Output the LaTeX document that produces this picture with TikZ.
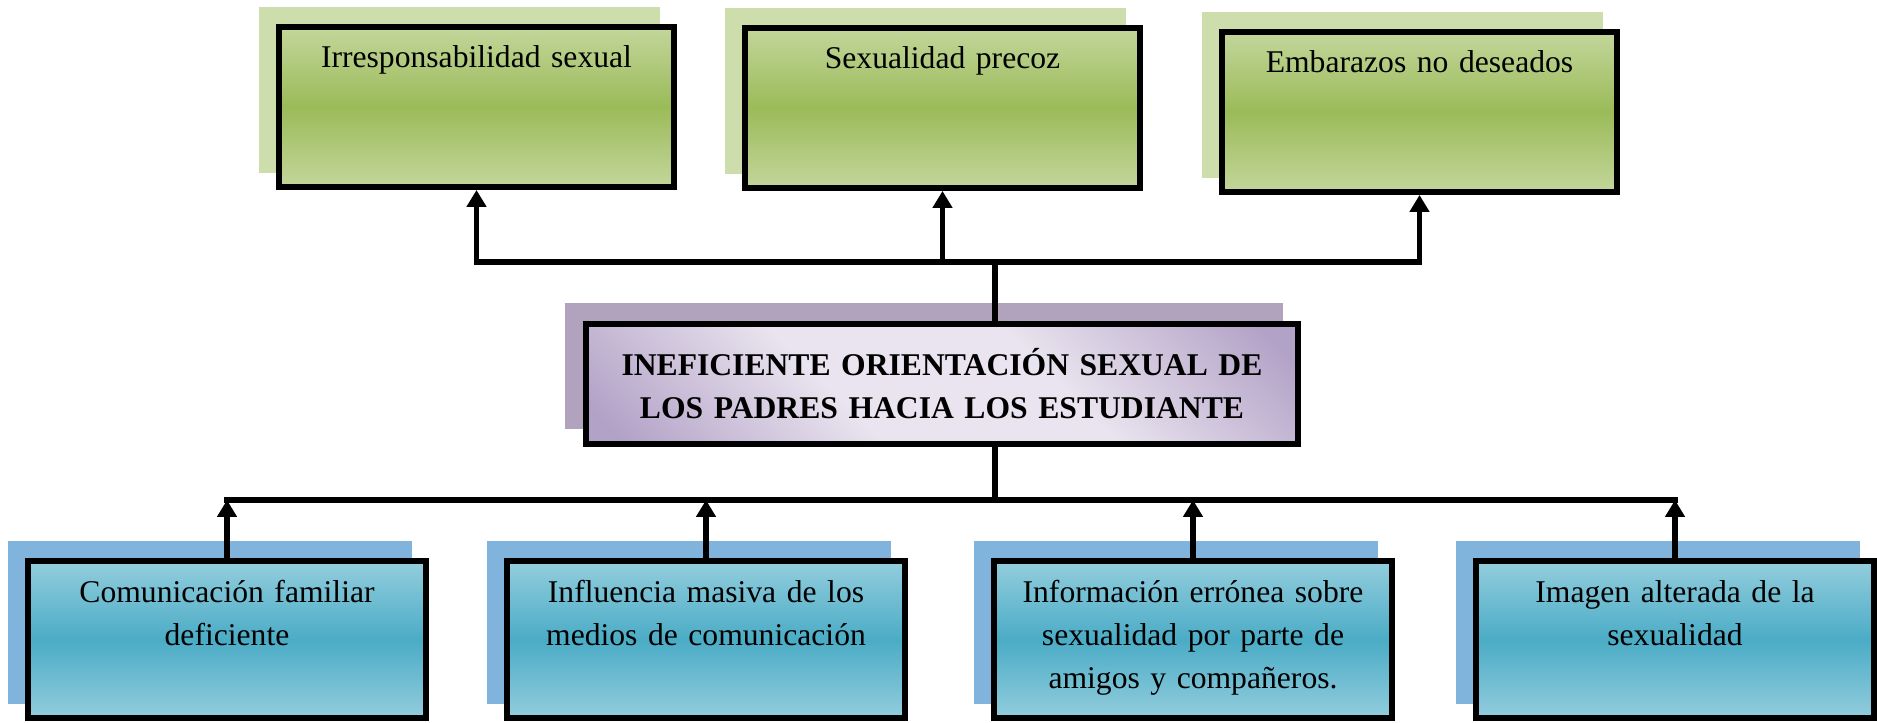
\documentclass[tikz,border=0pt]{standalone}
\usepackage{fontspec}
\setmainfont{Liberation Serif}
\usepackage{tikz}
\usetikzlibrary{arrows.meta,%
                shadows}

\definecolor{grnlight}{HTML}{C3D69B}
\definecolor{grndark}{HTML}{9BBB59}
\definecolor{grnshadow}{HTML}{CDDDAC}
\definecolor{blulight}{HTML}{93CDDD}
\definecolor{bludark}{HTML}{4BACC6}
\definecolor{blushadow}{HTML}{80B4DC}
\definecolor{lavlight}{HTML}{E9E4EF}
\definecolor{lavdark}{HTML}{B3A2C7}
\definecolor{lavshadow}{HTML}{B1A3BE}

\pgfdeclareverticalshading{lavshade}{100bp}{color(0bp)=(lavdark); color(18bp)=(lavdark); color(40bp)=(lavlight); color(60bp)=(lavlight); color(82bp)=(lavdark); color(100bp)=(lavdark)}

\tikzstyle{efecto}=[rectangle, draw, line width=1.7pt, top color=grnlight, bottom color=grnlight, middle color=grndark, minimum width=3.95cm, minimum height=1.6cm, inner sep=0pt, text width=3.95cm, align=center, text height=0.41cm, text depth=1.19cm, font=\fontsize{9pt}{12.2pt}\selectfont, drop shadow={shadow xshift=-0.17cm, shadow yshift=0.17cm, fill=grnshadow, draw=grnshadow, opacity=1}]
\tikzstyle{causa}=[rectangle, draw, line width=1.7pt, top color=blulight, bottom color=blulight, middle color=bludark, minimum width=3.98cm, minimum height=1.57cm, inner sep=0pt, text width=3.98cm, align=center, text height=0.41cm, text depth=1.16cm, font=\fontsize{9pt}{12.2pt}\selectfont, drop shadow={shadow xshift=-0.17cm, shadow yshift=0.17cm, fill=blushadow, draw=blushadow, opacity=1}]
\tikzstyle{problema}=[rectangle, draw, line width=1.7pt, shading=lavshade, shading angle=-45, minimum width=7.12cm, minimum height=1.2cm, inner sep=0pt, text width=7.12cm, align=center, font=\bfseries\fontsize{9pt}{12.2pt}\selectfont, drop shadow={shadow xshift=-0.18cm, shadow yshift=0.18cm, fill=lavshadow, draw=lavshadow, opacity=1}]
\tikzstyle{linea}=[line width=1.5pt, line cap=rect]
\tikzstyle{flecha}=[line width=1.5pt, -{Triangle[width=5.4pt,length=4.8pt]}]

\begin{document}
\begin{tikzpicture}
  \useasboundingbox (0,0) rectangle (18.77,7.23);

  \node[efecto] (irres) at (4.765,6.16) {Irresponsabilidad sexual};
  \node[efecto] (precoz) at (9.425,6.15) {Sexualidad precoz};
  \node[efecto] (embarazo) at (14.195,6.11) {Embarazos no deseados};

  \node[problema] (orient) at (9.42,3.39) {INEFICIENTE ORIENTACIÓN SEXUAL DE\\LOS PADRES HACIA LOS ESTUDIANTE};

  \node[causa] (comun) at (2.27,0.83) {Comunicación familiar\\deficiente};
  \node[causa] (medios) at (7.06,0.83) {Influencia masiva de los\\medios de comunicación};
  \node[causa] (info) at (11.93,0.83) {Información errónea sobre\\sexualidad por parte de\\amigos y compañeros.};
  \node[causa] (imagen) at (16.75,0.83) {Imagen alterada de la\\sexualidad};

  \coordinate (arriba) at (9.95,4.61);
  \coordinate (abajo) at (9.95,2.23);

  % efectos
  \draw[linea] (orient.north -| arriba) -- (arriba);
  \draw[linea] (irres |- arriba) -- (embarazo |- arriba);
  \draw[flecha] (irres |- arriba) -- (irres);
  \draw[flecha] (precoz |- arriba) -- (precoz);
  \draw[flecha] (embarazo |- arriba) -- (embarazo);

  % causas
  \draw[linea] (orient.south -| abajo) -- (abajo);
  \draw[linea] (comun |- abajo) -- (imagen |- abajo);
  \draw[flecha] (comun) -- (comun |- abajo);
  \draw[flecha] (medios) -- (medios |- abajo);
  \draw[flecha] (info) -- (info |- abajo);
  \draw[flecha] (imagen) -- (imagen |- abajo);
\end{tikzpicture}
\end{document}
